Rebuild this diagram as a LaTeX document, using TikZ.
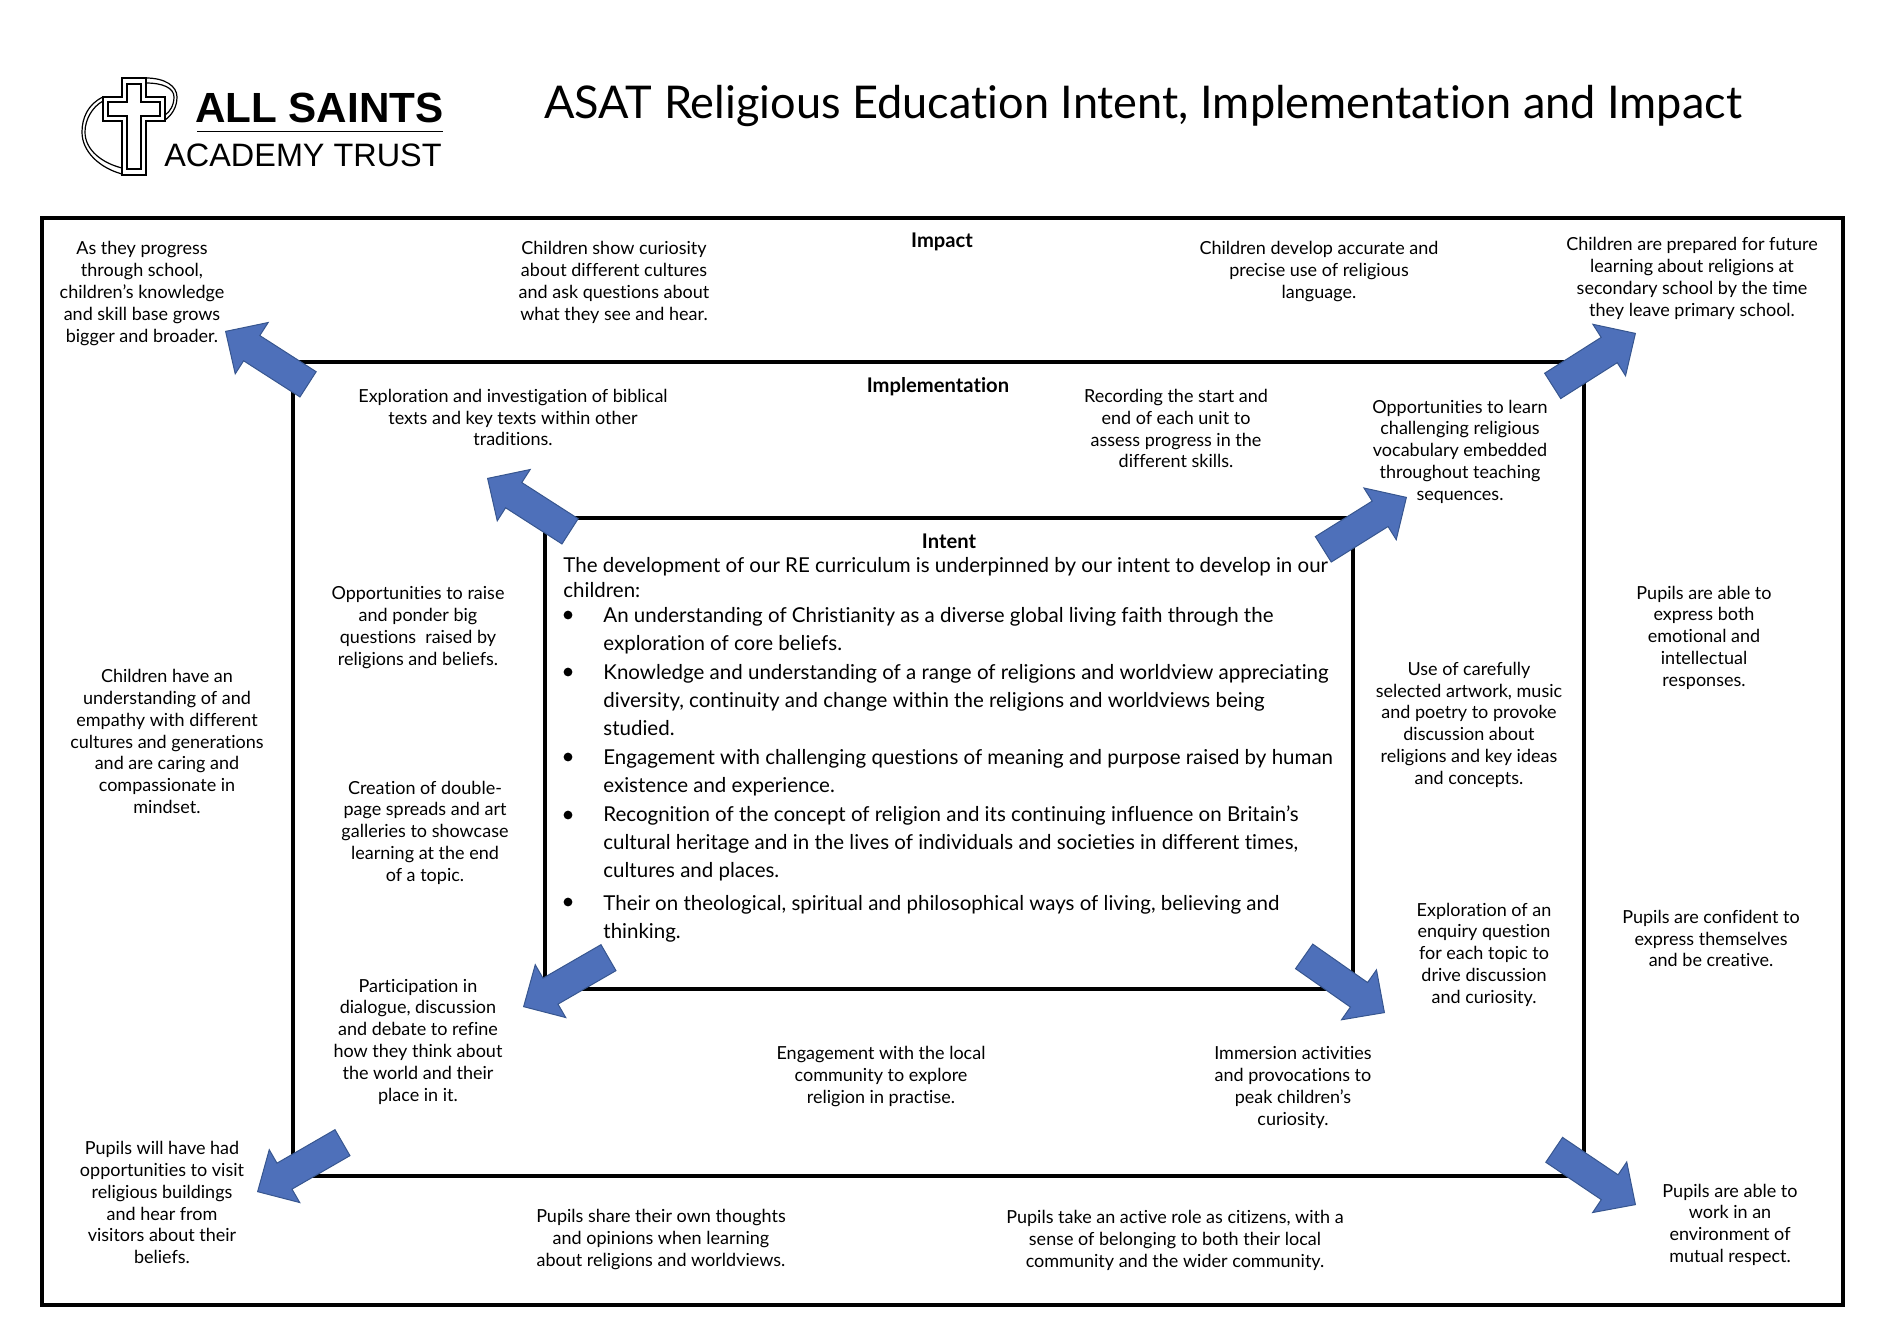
\documentclass[tikz,border=0pt]{standalone}
\usepackage{fontspec}
\usepackage{xcolor}
\usetikzlibrary{shapes.arrows}
\setmainfont{Lato}[Ligatures=NoCommon]
\newfontfamily\logofont{Liberation Sans}
\definecolor{asatBlueBg}{HTML}{4E70BA}
\definecolor{asatBlueLine}{HTML}{37568F}
\tikzset{
  frame box/.style={line width=2.3pt, draw=black},
  big arrow/.style={
    single arrow, anchor=tip, inner sep=0pt,
    text width=0pt, text height=7.25pt, text depth=7.25pt,
    minimum width=30pt, minimum height=49pt,
    single arrow head extend=7.75pt, single arrow tip angle=89,
    fill=asatBlueBg, draw=asatBlueLine, line width=0.5pt,
  },
  note/.style={align=center, inner sep=0pt, yshift=-0.8pt, font=\fontsize{9}{10.9}\selectfont},
  head note/.style={align=center, inner sep=0pt, yshift=-0.6pt, font=\fontsize{10.1}{12}\selectfont\bfseries},
  intent text/.style={align=left, anchor=west, inner sep=0pt, yshift=-0.6pt, font=\fontsize{10.25}{14}\selectfont},
  logo line/.style={line width=0.6pt, draw=black},
}

\begin{document}
\begin{tikzpicture}[x=0.5pt, y=-0.5pt]
\useasboundingbox (0,0) rectangle (1884,1329);

% --- LOGO ---
\draw[logo line] (103,97) .. controls (88,104) and (82,118) .. (82,132) .. controls (82,152) and (100,168) .. (122,174);
\draw[logo line] (103,101) .. controls (92,107) and (85,120) .. (85,132) .. controls (85,150) and (102,163) .. (122,168);
\draw[logo line] (146,78) .. controls (165,78) and (177,86) .. (177,97) .. controls (177,107) and (172,115) .. (165,120);
\draw[logo line] (146,83) .. controls (163,83) and (174,88) .. (174,97) .. controls (174,105) and (170,112) .. (165,115);
\draw[logo line] (122,78) -- (146,78) -- (146,97) -- (165,97) -- (165,121) -- (146,121) -- (146,175)
  -- (122,175) -- (122,121) -- (103,121) -- (103,97) -- (122,97) -- cycle;
\draw[logo line] (127,84) -- (141,84) -- (141,102) -- (160,102) -- (160,116) -- (141,116) -- (141,169)
  -- (127,169) -- (127,116) -- (108,116) -- (108,102) -- (127,102) -- cycle;
\node[inner sep=0pt, anchor=base east, font=\logofont\fontsize{21.1}{24}\selectfont\bfseries] (allsaints) at (444,122) {ALL SAINTS};
\draw[line width=0.4pt] (197,131) -- (443,131);
\node[inner sep=0pt, anchor=base east, font=\logofont\fontsize{16.2}{20}\selectfont] (trust) at (442,166) {ACADEMY TRUST};

% --- TITLE ---
\node[inner sep=0pt, font=\fontsize{22.55}{26}\selectfont] (title) at (1143,106)
  {ASAT Religious Education Intent, Implementation and Impact};

% --- NESTED BOXES ---
\draw[frame box] (42,218) rectangle (1843,1305);
\draw[frame box] (293,362) rectangle (1584,1176);
\draw[frame box] (545,518) rectangle (1353,989);

% --- HEADINGS ---
\node[head note] (impact) at (942,241) {Impact};
\node[head note] (implementation) at (938,385) {Implementation};
\node[head note] (intent) at (949,540) {Intent};

% --- IMPACT NOTES ---
\node[note] (n1) at (142,292) {As they progress\\through school,\\children’s knowledge\\and skill base grows\\bigger and broader.};
\node[note] (n2) at (614,281) {Children show curiosity\\about different cultures\\and ask questions about\\what they see and hear.};
\node[note] (n3) at (1319,270) {Children develop accurate and\\precise use of religious\\language.};
\node[note] (n4) at (1692,277) {Children are prepared for future\\learning about religions at\\secondary school by the time\\they leave primary school.};
\node[note] (n5) at (167,740) {Children have an\\understanding of and\\empathy with different\\cultures and generations\\and are caring and\\compassionate in\\mindset.};
\node[note] (n6) at (162,1201) {Pupils will have had\\opportunities to visit\\religious buildings\\and hear from\\visitors about their\\beliefs.};
\node[note] (n7) at (1704,636) {Pupils are able to\\express both\\emotional and\\intellectual\\responses.};
\node[note] (n8) at (1711,937) {Pupils are confident to\\express themselves\\and be creative.};
\node[note] (n9) at (661,1238) {Pupils share their own thoughts\\and opinions when learning\\about religions and worldviews.};
\node[note] (n10) at (1175,1239) {Pupils take an active role as citizens, with a\\sense of belonging to both their local\\community and the wider community.};
\node[note] (n11) at (1730,1223) {Pupils are able to\\work in an\\environment of\\mutual respect.};

% --- IMPLEMENTATION NOTES ---
\node[note] (m1) at (513,416) {Exploration and investigation of biblical\\texts and key texts within other\\traditions.};
\node[note] (m2) at (1176,427) {Recording the start and\\end of each unit to\\assess progress in the\\different skills.};
\node[note] (m3) at (1460,450) {Opportunities to learn\\challenging religious\\vocabulary embedded\\throughout teaching\\sequences.};
\node[note] (m4) at (418,626) {Opportunities to raise\\and ponder big\\questions\ \ raised by\\religions and beliefs.};
\node[note] (m5) at (425,831) {Creation of double-\\page spreads and art\\galleries to showcase\\learning at the end\\of a topic.};
\node[note] (m6) at (418,1040) {Participation in\\dialogue, discussion\\and debate to refine\\how they think about\\the world and their\\place in it.};
\node[note] (m7) at (1469,723) {Use of carefully\\selected artwork, music\\and poetry to provoke\\discussion about\\religions and key ideas\\and concepts.};
\node[note] (m8) at (1484,953) {Exploration of an\\enquiry question\\for each topic to\\drive discussion\\and curiosity.};
\node[note] (m9) at (881,1075) {Engagement with the local\\community to explore\\religion in practise.};
\node[note] (m10) at (1293,1086) {Immersion activities\\and provocations to\\peak children’s\\curiosity.};

% --- INTENT TEXT ---
\node[intent text] (lead) at (563,576) {The development of our RE curriculum is underpinned by our intent to develop in our\\[-1.4pt]children:};
\node[intent text] (i1) at (603,629) {An understanding of Christianity as a diverse global living faith through the\\exploration of core beliefs.};
\node[intent text] (i2) at (603,699) {Knowledge and understanding of a range of religions and worldview appreciating\\diversity, continuity and change within the religions and worldviews being\\studied.};
\node[intent text] (i3) at (603,771) {Engagement with challenging questions of meaning and purpose raised by human\\existence and experience.};
\node[intent text] (i4) at (603,842) {Recognition of the concept of religion and its continuing influence on Britain’s\\cultural heritage and in the lives of individuals and societies in different times,\\cultures and places.};
\node[intent text] (i5) at (603,918) {Their on theological, spiritual and philosophical ways of living, believing and\\thinking.};
\foreach \idx/\ypos in {1/615, 2/672, 3/757, 4/815, 5/902} {
  \fill (568,\ypos) circle (2.2pt);
}

% --- ARROWS ---
\foreach \idx/\tipx/\tipy/\ang in {
  1/225/331/147.3, 2/1636/333/32.4, 3/1407/497/32, 4/487/478/147.3,
  5/523/1007/210, 6/257/1192/210, 7/1385/1013/-35, 8/1636/1205/-34} {
  \node[big arrow, rotate=\ang] (arrow\idx) at (\tipx,\tipy) {};
}

\end{tikzpicture}
\end{document}
